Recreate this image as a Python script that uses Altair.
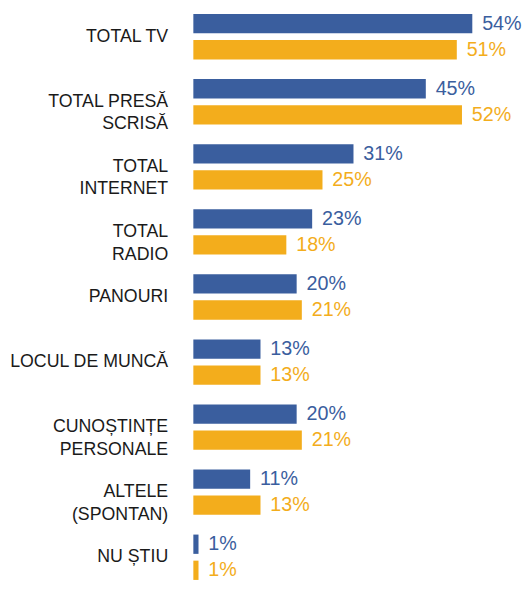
import altair as alt
import pandas as pd

categories = ["TOTAL TV", "TOTAL PRESĂ|SCRISĂ", "TOTAL|INTERNET", "TOTAL|RADIO",
              "PANOURI", "LOCUL DE MUNCĂ", "CUNOȘTINȚE|PERSONALE",
              "ALTELE|(SPONTAN)", "NU ȘTIU"]
series_names = ["Seria 1", "Seria 2"]
series_1 = [54, 45, 31, 23, 20, 13, 20, 11, 1]
series_2 = [51, 52, 25, 18, 21, 13, 21, 13, 1]
colors = ["#3A5E9E", "#F3AD1C"]

rows = []
for c, v1, v2 in zip(categories, series_1, series_2):
    rows.append({"cat": c, "serie": series_names[0], "val": v1, "lbl": f"{v1}%"})
    rows.append({"cat": c, "serie": series_names[1], "val": v2, "lbl": f"{v2}%"})
df = pd.DataFrame(rows)

font = "Liberation Sans, Arial, sans-serif"

y_enc = alt.Y("cat:N", sort=categories, title=None,
              scale=alt.Scale(paddingInner=0.303, paddingOuter=0),
              axis=alt.Axis(ticks=False, domain=False, labelPadding=26,
                            labelExpr="split(datum.label, '|')",
                            labelFont=font, labelFontSize=18, labelColor="#1a1a1a",
                            labelLineHeight=23, labelBaseline="middle", labelLimit=300))
yoff = alt.YOffset("serie:N", sort=series_names,
                   scale=alt.Scale(paddingInner=0.26, paddingOuter=0))
col = alt.Color("serie:N", sort=series_names,
                scale=alt.Scale(domain=series_names, range=colors), legend=None)
x_enc = alt.X("val:Q", scale=alt.Scale(domain=[0, 60]), axis=None)

base = alt.Chart(df)
bars = base.mark_bar().encode(x=x_enc, y=y_enc, yOffset=yoff, color=col)
texts = base.mark_text(align="left", baseline="middle", dx=10, font=font,
                       fontSize=20).encode(x=x_enc, y=y_enc, yOffset=yoff,
                                           color=col, text="lbl:N")

chart = (bars + texts).properties(
    width=314.4, height=574,
    autosize=alt.AutoSizeParams(type="none"),
    padding={"left": 188, "top": 2, "right": 21, "bottom": 0},
).configure_view(stroke=None)

chart.save("out.html", embed_options={"renderer": "svg", "actions": False})
